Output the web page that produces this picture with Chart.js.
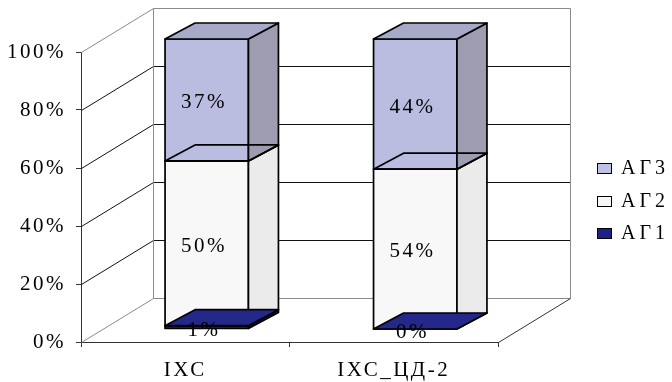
<!DOCTYPE html>
<html>
<head>
<meta charset="utf-8">
<script src="https://cdn.jsdelivr.net/npm/chart.js@4/dist/chart.umd.min.js"></script>
<style>
  html, body { margin: 0; padding: 0; background: #fff; }
  canvas { display: block; }
</style>
</head>
<body>
<canvas id="chart" width="672" height="382"></canvas>
<script>
// Groups on the category axis
const categories = ['ІХС', 'ІХС_ЦД-2'];
// Series names, bottom to top of each stack
const seriesNames = ['АГ1', 'АГ2', 'АГ3'];
// Percentages per group, as labelled
const ag1 = [1, 0];
const ag2 = [50, 54];
const ag3 = [37, 44];
// Value axis ticks
const yTicks = [0, 20, 40, 60, 80, 100];

const rawSeries = [ag1, ag2, ag3];
const totals = categories.map((_, i) => rawSeries.reduce((s, arr) => s + arr[i], 0));
// 100 % stacked: each segment is its share of the group total
const shareOf = arr => arr.map((v, i) => v / totals[i] * 100);

// Face colours of the 3-D columns (front / side / top)
const faceStyles = [
  { front: '#1c1f7c', side: '#12145a', top: '#24288a', legend: '#1c2088', topFill: true },
  { front: '#f8f8f8', side: '#ebebeb', top: '#f0f0f0', legend: '#f7f7f7', topFill: false },
  { front: '#babce0', side: '#9d9cb1', top: '#a7a9c9', legend: '#c0c1e6', topFill: true }
];

const SERIF = '"Liberation Serif", "Times New Roman", serif';
const WALL = { dx: 72, dy: -44 };        // depth of the floor / side wall
const BAR_FRONT = { dx: 21.5, dy: -13 }; // column front face inside the depth
const BAR_DEPTH = { dx: 30, dy: -16 };   // column thickness
const LABEL_SHIFT = { x: -4, y: 3 };

const px = v => Math.round(v) + 0.5;

function line(ctx, x1, y1, x2, y2, color) {
  ctx.beginPath();
  ctx.moveTo(px(x1), px(y1));
  ctx.lineTo(px(x2), px(y2));
  ctx.strokeStyle = color;
  ctx.lineWidth = 1;
  ctx.stroke();
}

function poly(ctx, pts, fill, stroke, lw) {
  ctx.beginPath();
  pts.forEach((p, k) => (k ? ctx.lineTo(p[0], p[1]) : ctx.moveTo(p[0], p[1])));
  ctx.closePath();
  if (fill) { ctx.fillStyle = fill; ctx.fill(); }
  if (stroke) { ctx.strokeStyle = stroke; ctx.lineWidth = lw; ctx.lineJoin = 'round'; ctx.stroke(); }
}

const spacingPlugin = {
  id: 'spacing',
  beforeDraw(chart) { chart.ctx.letterSpacing = '2.5px'; }
};

// Floor, side wall, back wall and their grid lines
const wallsPlugin = {
  id: 'walls',
  beforeDatasetsDraw(chart) {
    const { ctx, chartArea: a, scales } = chart;
    const y = scales.y;
    ctx.save();
    const frame = '#8a8a8a';
    yTicks.forEach(v => {
      const yf = y.getPixelForValue(v);
      const yb = yf + WALL.dy;
      const edge = (v === yTicks[0] || v === yTicks[yTicks.length - 1]);
      line(ctx, a.left, yf, a.left + WALL.dx, yb, edge ? frame : '#111');
      line(ctx, a.left + WALL.dx, yb, a.right + WALL.dx, yb, edge ? frame : '#111');
    });
    const top = y.getPixelForValue(100) + WALL.dy;
    const bot = y.getPixelForValue(0) + WALL.dy;
    line(ctx, a.left + WALL.dx, top, a.left + WALL.dx, bot, frame);
    line(ctx, a.right + WALL.dx, top, a.right + WALL.dx, bot, frame);
    line(ctx, a.right, a.bottom, a.right + WALL.dx, a.bottom + WALL.dy, '#333');
    ctx.restore();
  }
};

// 3-D columns drawn from the bar elements' geometry
const columnsPlugin = {
  id: 'columns',
  afterDatasetsDraw(chart) {
    const { ctx } = chart;
    ctx.save();
    ctx.letterSpacing = '0px';
    const n = chart.data.datasets.length;
    const boxes = [];
    for (let d = 0; d < n; d++) {
      chart.getDatasetMeta(d).data.forEach((el, i) => {
        const x0 = el.x - el.width / 2 + BAR_FRONT.dx;
        const x1 = el.x + el.width / 2 + BAR_FRONT.dx;
        const yt = el.y + BAR_FRONT.dy;
        const yb = el.base + BAR_FRONT.dy;
        boxes.push({ d, i, x0, x1, yt, yb });
      });
    }
    const dx = BAR_DEPTH.dx, dy = BAR_DEPTH.dy;
    const lw = 1.7, edge = '#000';
    boxes.forEach(b => {
      const st = faceStyles[b.d];
      poly(ctx, [[b.x0, b.yt], [b.x1, b.yt], [b.x1, b.yb], [b.x0, b.yb]], st.front, edge, lw);
      poly(ctx, [[b.x1, b.yb], [b.x1 + dx, b.yb + dy], [b.x1 + dx, b.yt + dy], [b.x1, b.yt]], st.side, edge, lw);
    });
    boxes.forEach(b => {
      const st = faceStyles[b.d];
      poly(ctx, [[b.x0, b.yt], [b.x0 + dx, b.yt + dy], [b.x1 + dx, b.yt + dy], [b.x1, b.yt]],
        st.topFill ? st.top : null, edge, lw);
    });
    ctx.restore();
  }
};

// Value labels on each segment
const labelsPlugin = {
  id: 'segLabels',
  afterDatasetsDraw(chart) {
    const { ctx } = chart;
    ctx.save();
    ctx.letterSpacing = '2.5px';
    ctx.font = '21px ' + SERIF;
    ctx.fillStyle = '#000';
    ctx.textAlign = 'center';
    ctx.textBaseline = 'middle';
    chart.data.datasets.forEach((ds, d) => {
      chart.getDatasetMeta(d).data.forEach((el, i) => {
        const cx = el.x + BAR_FRONT.dx + LABEL_SHIFT.x + 1.2;
        const cy = (el.y + el.base) / 2 + BAR_FRONT.dy + LABEL_SHIFT.y;
        ctx.fillText(ds.rawValues[i] + '%', cx, cy);
      });
    });
    ctx.restore();
  }
};

// Legend on the right, top series first
const legendPlugin = {
  id: 'sideLegend',
  afterDraw(chart) {
    const { ctx } = chart;
    ctx.save();
    ctx.letterSpacing = '4px';
    ctx.font = '20px ' + SERIF;
    ctx.textBaseline = 'middle';
    ctx.textAlign = 'left';
    const rows = [2, 1, 0];
    rows.forEach((d, k) => {
      const cy = Math.round(168 + k * 32.5);
      ctx.fillStyle = faceStyles[d].legend;
      ctx.fillRect(597, cy - 5, 15, 11);
      ctx.strokeStyle = '#000';
      ctx.lineWidth = 1;
      ctx.strokeRect(597.5, cy - 4.5, 14, 10);
      ctx.fillStyle = '#000';
      ctx.fillText(seriesNames[d], 621, cy + 1);
    });
    ctx.restore();
  }
};

const datasets = seriesNames.map((name, d) => ({
  label: name,
  data: shareOf(rawSeries[d]),
  rawValues: rawSeries[d],
  backgroundColor: 'rgba(0,0,0,0)',
  borderWidth: 0,
  categoryPercentage: 1,
  barPercentage: 0.4
}));

new Chart(document.getElementById('chart'), {
  type: 'bar',
  data: { labels: categories, datasets },
  options: {
    responsive: false,
    animation: false,
    layout: { padding: { top: 52, right: 174, bottom: 0, left: 0 } },
    plugins: { legend: { display: false }, tooltip: { enabled: false } },
    scales: {
      x: {
        stacked: true,
        grid: { offset: true, drawOnChartArea: false, drawTicks: true, tickLength: 5, color: '#333' },
        border: { color: '#333', width: 1 },
        ticks: { color: '#000', font: { family: SERIF, size: 21 }, padding: 11 },
        afterFit(scale) { scale.height = 40; }
      },
      y: {
        stacked: true,
        min: 0,
        max: 100,
        afterBuildTicks(scale) { scale.ticks = yTicks.map(v => ({ value: v })); },
        grid: { drawOnChartArea: false, drawTicks: true, tickLength: 5, color: '#333' },
        border: { color: '#333', width: 1 },
        ticks: { color: '#000', font: { family: SERIF, size: 21 }, padding: 10, callback: v => v + '%' },
        afterFit(scale) { scale.width = 81; }
      }
    }
  },
  plugins: [spacingPlugin, wallsPlugin, columnsPlugin, labelsPlugin, legendPlugin]
});
</script>
</body>
</html>
